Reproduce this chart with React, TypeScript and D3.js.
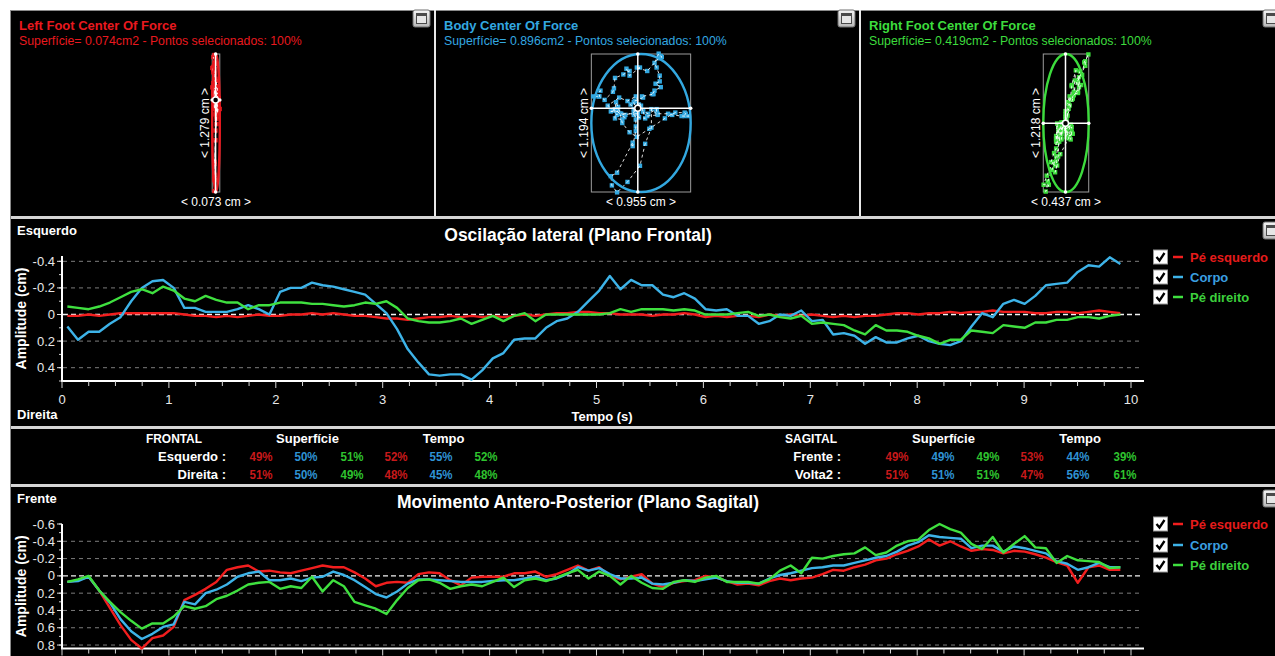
import React from "react";
import * as d3 from "d3";

const FONT = "'Liberation Sans', Arial, Helvetica, sans-serif";

// Platform sampling (seconds)
const SAMPLE_START = 0.05;
const SAMPLE_STEP = 0.0995;

// Medio-lateral displacement (cm), negative = Esquerdo
const lateralLeftFoot = [
  0.01, 0.01, 0.0, 0.01, 0.0, -0.01, -0.01, -0.01, -0.01, -0.01,
  -0.01, 0.0, 0.01, 0.01, 0.02, 0.01, 0.02, 0.01, 0.0, 0.01,
  0.01, 0.0, 0.0, -0.01, 0.0, -0.01, 0.0, 0.01, 0.01, 0.02,
  0.03, 0.03, 0.04, 0.03, 0.02, 0.02, 0.01, 0.02, 0.01, 0.02,
  0.01, 0.02, 0.01, 0.0, 0.01, 0.0, -0.01, -0.01, -0.02, -0.02,
  -0.01, -0.01, 0.0, 0.0, 0.0, 0.01, 0.0, 0.0, -0.01, 0.0,
  0.02, 0.01, 0.02, 0.01, 0.01, 0.02, 0.0, 0.01, 0.0, 0.01,
  0.0, 0.01, 0.02, 0.01, 0.02, 0.01, 0.01, 0.0, -0.01, -0.01,
  0.0, -0.01, -0.01, -0.02, -0.01, -0.02, -0.02, -0.03, -0.02, -0.02,
  -0.02, -0.01, -0.01, -0.02, -0.02, -0.01, -0.02, -0.03, -0.02, -0.01,
];
const lateralBody = [
  0.09, 0.19, 0.13, 0.13, 0.07, 0.02, -0.1, -0.2, -0.25, -0.26,
  -0.2, -0.05, -0.05, -0.02, -0.02, -0.02, -0.04, -0.07, -0.04, 0.0,
  -0.17, -0.2, -0.2, -0.24, -0.22, -0.21, -0.19, -0.17, -0.15, -0.08,
  -0.01, 0.11, 0.26, 0.36, 0.45, 0.46, 0.45, 0.45, 0.49, 0.42,
  0.33, 0.29, 0.19, 0.18, 0.18, 0.1, 0.05, 0.03, -0.02, -0.1,
  -0.18, -0.29, -0.19, -0.26, -0.22, -0.22, -0.15, -0.13, -0.16, -0.12,
  -0.04, -0.03, -0.04, 0.01, 0.01, 0.07, 0.05, 0.0, 0.01, -0.03,
  0.05, 0.04, 0.15, 0.14, 0.16, 0.22, 0.17, 0.21, 0.21, 0.18,
  0.16, 0.2, 0.22, 0.23, 0.2, 0.09, -0.01, 0.02, -0.08, -0.11,
  -0.08, -0.14, -0.22, -0.23, -0.24, -0.32, -0.37, -0.36, -0.43, -0.38,
];
const lateralRightFoot = [
  -0.06, -0.05, -0.04, -0.06, -0.09, -0.13, -0.17, -0.19, -0.16, -0.21,
  -0.18, -0.12, -0.1, -0.14, -0.11, -0.09, -0.09, -0.04, -0.07, -0.07,
  -0.09, -0.09, -0.09, -0.08, -0.08, -0.07, -0.06, -0.07, -0.09, -0.08,
  -0.1, -0.05, 0.03, 0.05, 0.06, 0.06, 0.05, 0.03, 0.07, 0.04,
  0.01, 0.05, 0.01, -0.01, 0.05, 0.0, 0.0, 0.0, 0.0, 0.0,
  0.0, -0.01, -0.04, -0.02, -0.04, -0.04, -0.04, -0.03, -0.04, -0.03,
  0.0, 0.0, 0.0, -0.01, -0.02, 0.01, 0.0, 0.02, 0.03, 0.01,
  0.07, 0.06, 0.07, 0.08, 0.12, 0.15, 0.08, 0.12, 0.12, 0.13,
  0.16, 0.18, 0.22, 0.19, 0.19, 0.12, 0.13, 0.14, 0.08, 0.09,
  0.1, 0.06, 0.06, 0.04, 0.04, 0.02, 0.02, 0.03, 0.01, 0.0,
];

// Antero-posterior displacement (cm), negative = Frente
const sagittalLeftFoot = [
  0.07, 0.05, 0.01, 0.17, 0.37, 0.57, 0.74, 0.84, 0.72, 0.69,
  0.59, 0.28, 0.22, 0.15, 0.07, -0.07, -0.1, -0.12, -0.05, -0.06,
  -0.04, -0.03, -0.06, -0.09, -0.12, -0.1, -0.1, -0.04, 0.03, 0.12,
  0.08, 0.07, 0.08, -0.02, -0.04, -0.03, 0.05, 0.11, 0.02, 0.01,
  0.01, 0.01, -0.03, -0.03, -0.05, 0.01, -0.02, -0.07, -0.12, -0.06,
  -0.1, 0.0, 0.04, 0.01, -0.02, 0.09, 0.13, 0.08, 0.06, 0.05,
  0.0, 0.02, 0.06, 0.1, 0.09, 0.11, 0.06, 0.03, 0.05, 0.03,
  0.02, -0.02, -0.07, -0.06, -0.1, -0.13, -0.18, -0.2, -0.25, -0.29,
  -0.34, -0.42, -0.35, -0.4, -0.34, -0.29, -0.31, -0.3, -0.26, -0.29,
  -0.28, -0.25, -0.21, -0.16, -0.12, 0.08, -0.1, -0.12, -0.07, -0.07,
];
const sagittalBody = [
  0.07, 0.06, 0.01, 0.17, 0.31, 0.5, 0.64, 0.73, 0.67, 0.59,
  0.56, 0.3, 0.33, 0.2, 0.16, 0.1, 0.01, -0.03, -0.05, 0.05,
  0.05, 0.03, 0.06, 0.02, 0.01, -0.05, -0.01, 0.05, 0.13, 0.21,
  0.25, 0.18, 0.09, 0.04, 0.04, 0.05, 0.06, 0.07, 0.07, 0.07,
  0.06, 0.05, 0.05, 0.03, 0.01, 0.05, 0.03, -0.02, -0.1, -0.06,
  -0.09, -0.02, 0.03, 0.03, 0.02, 0.09, 0.1, 0.08, 0.05, 0.06,
  0.04, 0.02, 0.06, 0.08, 0.08, 0.09, 0.03, -0.01, -0.03, -0.06,
  -0.09, -0.1, -0.12, -0.12, -0.15, -0.18, -0.21, -0.23, -0.28, -0.35,
  -0.39, -0.47, -0.45, -0.44, -0.43, -0.32, -0.35, -0.35, -0.28, -0.34,
  -0.32, -0.29, -0.26, -0.17, -0.14, -0.07, -0.1, -0.15, -0.1, -0.1,
];
const sagittalRightFoot = [
  0.07, 0.04, 0.0, 0.17, 0.3, 0.42, 0.52, 0.61, 0.55, 0.55,
  0.47, 0.35, 0.38, 0.35, 0.27, 0.23, 0.17, 0.1, 0.08, 0.07,
  0.15, 0.12, 0.14, 0.01, 0.18, 0.05, 0.12, 0.3, 0.34, 0.38,
  0.44, 0.28, 0.14, 0.05, 0.04, 0.08, 0.15, 0.12, 0.1, 0.12,
  0.07, 0.02, 0.13, 0.05, 0.03, 0.06, 0.02, -0.03, -0.07, 0.03,
  -0.05, 0.0, 0.1, 0.0, 0.08, 0.14, 0.15, 0.07, 0.05, 0.07,
  0.02, 0.0, 0.07, 0.07, 0.07, 0.09, 0.04, -0.06, -0.12, -0.03,
  -0.21, -0.2, -0.23, -0.25, -0.26, -0.33, -0.24, -0.27, -0.35, -0.4,
  -0.42, -0.53, -0.6, -0.54, -0.5, -0.37, -0.31, -0.45, -0.27, -0.37,
  -0.46, -0.33, -0.32, -0.15, -0.23, -0.18, -0.17, -0.16, -0.09, -0.1,
];

const times = lateralBody.map((_, i) => SAMPLE_START + i * SAMPLE_STEP);

const seriesNames = ["Pé esquerdo", "Corpo", "Pé direito"];
const seriesColors = ["#f21e1e", "#3db3e8", "#3fe03f"];
const legendColors = ["#e51b1b", "#3a9fe0", "#3ccf3c"];

const timeTicks = [0, 1, 2, 3, 4, 5, 6, 7, 8, 9, 10];
const lateralTicks = [-0.4, -0.2, 0, 0.2, 0.4];
const sagittalTicks = [-0.6, -0.4, -0.2, 0, 0.2, 0.4, 0.6, 0.8];

// Center-of-force panels
const panelTitles = ["Left Foot Center Of Force", "Body Center Of Force", "Right Foot Center Of Force"];
const panelColors = ["#e8191f", "#33a8e0", "#3ddc3d"];
const panelAreas = [0.074, 0.896, 0.419];
const panelWidthsCm = [0.073, 0.955, 0.437];
const panelHeightsCm = [1.279, 1.194, 1.218];
const panelLateral = [lateralLeftFoot, lateralBody, lateralRightFoot];
const panelSagittal = [sagittalLeftFoot, sagittalBody, sagittalRightFoot];

// Summary table
const frontalRows = ["Esquerdo :", "Direita :"];
const frontalValues = [
  [49, 50, 51, 52, 55, 52],
  [51, 50, 49, 48, 45, 48],
];
const sagittalRows = ["Frente :", "Volta2 :"];
const sagittalValues = [
  [49, 49, 49, 53, 44, 39],
  [51, 51, 51, 47, 56, 61],
];
const tableColors = ["#c8191b", "#2f93d4", "#2fc42f", "#c8191b", "#2f93d4", "#2fc42f"];

const xTime = d3.scaleLinear().domain([0, 10]).range([62, 1131]);
const yLateral = d3.scaleLinear().domain([-0.44, 0.5]).range([256, 381]);
const ySagittal = d3.scaleLinear().domain([-0.6, 0.84]).range([524, 648.5]);

const fmtTick = (v: number) => (Math.abs(v) < 1e-9 ? "0" : v.toFixed(1));

function WinButton({ x, y }: { x: number; y: number }) {
  return (
    <g>
      <rect x={x} y={y} width={17} height={17} rx={2} fill="url(#btnGrad)" stroke="#6f6f6f" />
      <rect x={x + 3.5} y={y + 3.5} width={10} height={10} fill="#e6e6e6" stroke="#4a4a4a" />
      <line x1={x + 3.5} x2={x + 13.5} y1={y + 5} y2={y + 5} stroke="#4a4a4a" strokeWidth={2} />
    </g>
  );
}

function Legend({ rows }: { rows: number[] }) {
  return (
    <g>
      {rows.map((ry, i) => (
        <g key={i}>
          <rect x={1153.5} y={ry - 7} width={14} height={14} fill="#fff" stroke="#9a9a9a" />
          <path
            d={`M${1156.5},${ry} L${1159.5},${ry + 3.5} L${1164.5},${ry - 4}`}
            fill="none"
            stroke="#000"
            strokeWidth={2.3}
          />
          <line x1={1173} x2={1183} y1={ry} y2={ry} stroke={seriesColors[i]} strokeWidth={2.5} />
          <text x={1190} y={ry + 4.5} fill={legendColors[i]} fontSize={13} fontWeight="bold">
            {seriesNames[i]}
          </text>
        </g>
      ))}
    </g>
  );
}

type ChartProps = {
  y: d3.ScaleLinear<number, number>;
  ticks: number[];
  gridTicks: number[];
  series: number[][];
  title: string;
  titleY: number;
  topLabel: string;
  topLabelY: number;
  bottomLabel?: string;
  bottomLabelY?: number;
  legendRows: number[];
  showTimeLabels: boolean;
};

function TimeChart(p: ChartProps) {
  const [yTop, yBottom] = p.y.range();
  const [d0, d1] = p.y.domain();
  const minor = d3.range(Math.ceil(d0 * 10 - 1e-6), Math.floor(d1 * 10 + 1e-6) + 1).map((k) => k / 10);
  const xMinor = d3.range(0, 41).map((k) => k * 0.25);
  const line = d3
    .line<number>()
    .x((_, i) => xTime(times[i]))
    .y((v) => p.y(v));
  const yMid = (yTop + yBottom) / 2;
  return (
    <g>
      {p.gridTicks.map((t) => (
        <line
          key={`g${t}`}
          x1={63}
          x2={1142}
          y1={p.y(t)}
          y2={p.y(t)}
          stroke={t === 0 ? "#f2f2f2" : "#7c7c7c"}
          strokeWidth={t === 0 ? 1.4 : 1}
          strokeDasharray={t === 0 ? "5,3" : "4,4"}
        />
      ))}
      {minor.map((t) => (
        <line key={`m${t}`} x1={59} x2={62} y1={p.y(t)} y2={p.y(t)} stroke="#d0d0d0" strokeWidth={1} />
      ))}
      {p.ticks.map((t) => (
        <g key={`t${t}`}>
          <line x1={57} x2={62} y1={p.y(t)} y2={p.y(t)} stroke="#e0e0e0" strokeWidth={1} />
          <text x={55} y={p.y(t) + 4.5} fill="#e8e8e8" fontSize={13} textAnchor="end">
            {fmtTick(t)}
          </text>
        </g>
      ))}
      <line x1={62} x2={62} y1={yTop} y2={yBottom} stroke="#fff" strokeWidth={2} />
      <line x1={61} x2={1144} y1={yBottom} y2={yBottom} stroke="#fff" strokeWidth={2} />
      {xMinor.map((t) => {
        const major = Math.abs(t - Math.round(t)) < 1e-6;
        return (
          <line
            key={`x${t}`}
            x1={xTime(t)}
            x2={xTime(t)}
            y1={yBottom}
            y2={yBottom + (major ? 7 : 5)}
            stroke="#d8d8d8"
            strokeWidth={1}
          />
        );
      })}
      {p.showTimeLabels &&
        timeTicks.map((t) => (
          <text key={`l${t}`} x={xTime(t)} y={yBottom + 23} fill="#e8e8e8" fontSize={13} textAnchor="middle">
            {t}
          </text>
        ))}
      {p.showTimeLabels && (
        <text x={602} y={421} fill="#fff" fontSize={13} fontWeight="bold" textAnchor="middle">
          Tempo (s)
        </text>
      )}
      {p.series.map((s, i) => (
        <path key={`s${i}`} d={line(s) || ""} fill="none" stroke={seriesColors[i]} strokeWidth={2.4} strokeLinejoin="round" />
      ))}
      <text
        transform={`translate(26,${yMid}) rotate(-90)`}
        fill="#fff"
        fontSize={14}
        fontWeight="bold"
        textAnchor="middle"
      >
        Amplitude (cm)
      </text>
      <text x={17} y={p.topLabelY} fill="#fff" fontSize={13} fontWeight="bold">
        {p.topLabel}
      </text>
      {p.bottomLabel && (
        <text x={17} y={p.bottomLabelY} fill="#fff" fontSize={13} fontWeight="bold">
          {p.bottomLabel}
        </text>
      )}
      <text x={578} y={p.titleY} fill="#fff" fontSize={17.5} fontWeight="bold" textAnchor="middle">
        {p.title}
      </text>
      <Legend rows={p.legendRows} />
    </g>
  );
}

function ForcePanel({ index }: { index: number }) {
  const x0 = 10 + index * 425;
  const cx = x0 + 206;
  const top = 54;
  const bottom = 192;
  const kx = 104; // px per cm, horizontal
  const W = panelWidthsCm[index];
  const H = panelHeightsCm[index];
  const lat = panelLateral[index];
  const sag = panelSagittal[index];
  const color = panelColors[index];
  const [lx0, lx1] = d3.extent(lat) as [number, number];
  const [ly0, ly1] = d3.extent(sag) as [number, number];
  const midX = (lx0 + lx1) / 2;
  const midY = (ly0 + ly1) / 2;
  const sx = d3.scaleLinear().domain([midX - W / 2, midX + W / 2]).range([cx - (W * kx) / 2, cx + (W * kx) / 2]);
  const sy = d3.scaleLinear().domain([midY - H / 2, midY + H / 2]).range([top, bottom]);
  const meanX = sx(d3.mean(lat) as number);
  const meanY = sy(d3.mean(sag) as number);
  const left = sx(midX - W / 2);
  const right = sx(midX + W / 2);
  const pts = lat.map((v, i) => [sx(v), sy(sag[i])] as [number, number]);
  const path = d3.line()(pts) || "";
  return (
    <g>
      <text x={x0 + 9} y={30} fill={color} fontSize={13} fontWeight="bold">
        {panelTitles[index]}
      </text>
      <text x={x0 + 9} y={45} fill={color} fontSize={12.3}>
        {`Superfície= ${panelAreas[index].toFixed(3)}cm2 - Pontos selecionados: 100%`}
      </text>
      <rect x={left} y={top} width={right - left} height={bottom - top} fill="none" stroke="#9c9c9c" strokeWidth={1} />
      {pts.map(([px, py], i) => (
        <rect key={i} x={px - 2.2} y={py - 2.2} width={4.4} height={4.4} fill={color} />
      ))}
      <path d={path} fill="none" stroke="#fff" strokeWidth={1} strokeDasharray="3,3" opacity={0.85} />
      <ellipse
        cx={(left + right) / 2}
        cy={(top + bottom) / 2}
        rx={(right - left) / 2}
        ry={(bottom - top) / 2}
        fill="none"
        stroke={color}
        strokeWidth={2.4}
      />
      <line x1={meanX} x2={meanX} y1={top} y2={bottom} stroke="#fff" strokeWidth={1.5} />
      <line x1={left} x2={right} y1={meanY} y2={meanY} stroke="#fff" strokeWidth={1.5} />
      {[
        [meanX, top],
        [meanX, bottom],
        [left, meanY],
        [right, meanY],
      ].map(([ex, ey], i) => (
        <circle key={i} cx={ex} cy={ey} r={1.8} fill="#fff" />
      ))}
      <circle cx={meanX} cy={meanY} r={3} fill="#000" stroke="#fff" strokeWidth={1.5} />
      <text x={cx} y={206} fill="#fff" fontSize={12} textAnchor="middle">
        {`< ${W.toFixed(3)} cm >`}
      </text>
      <text
        transform={`translate(${left - 3},${(top + bottom) / 2}) rotate(-90)`}
        fill="#fff"
        fontSize={12}
        textAnchor="middle"
      >
        {`< ${H.toFixed(3)} cm >`}
      </text>
      <WinButton x={x0 + 403} y={10} />
    </g>
  );
}

function SummaryTable() {
  const blocks = [
    { head: "FRONTAL", headX: 146, headLen: 56, labelEnd: 226, rows: frontalRows, values: frontalValues, supX: 307.5, tempoX: 443.5, cols: [261, 306, 352, 396, 441, 486] },
    { head: "SAGITAL", headX: 785, headLen: 52, labelEnd: 841, rows: sagittalRows, values: sagittalValues, supX: 943.5, tempoX: 1080, cols: [897, 943, 988, 1032, 1078, 1125] },
  ];
  const rowY = [460.5, 478.5];
  return (
    <g fontWeight="bold" fontSize={13}>
      {blocks.map((b) => (
        <g key={b.head}>
          <text x={b.headX} y={442.5} fill="#fff" textLength={b.headLen} lengthAdjust="spacingAndGlyphs">
            {b.head}
          </text>
          <text x={b.supX} y={442.5} fill="#fff" textAnchor="middle">
            Superfície
          </text>
          <text x={b.tempoX} y={442.5} fill="#fff" textAnchor="middle">
            Tempo
          </text>
          {b.rows.map((r, ri) => (
            <g key={r}>
              <text x={b.labelEnd} y={rowY[ri]} fill="#fff" textAnchor="end">
                {r}
              </text>
              {b.values[ri].map((v, ci) => (
                <text
                  key={ci}
                  x={b.cols[ci] - 11.5}
                  y={rowY[ri]}
                  fill={tableColors[ci]}
                  textLength={23}
                  lengthAdjust="spacingAndGlyphs"
                >
                  {`${v}%`}
                </text>
              ))}
            </g>
          ))}
        </g>
      ))}
    </g>
  );
}

export default function App() {
  return (
    <svg
      width={1275}
      height={656}
      style={{ position: "absolute", left: 0, top: 0, display: "block" }}
      fontFamily={FONT}
    >
      <defs>
        <linearGradient id="btnGrad" x1="0" y1="0" x2="0" y2="1">
          <stop offset="0" stopColor="#f4f4f4" />
          <stop offset="1" stopColor="#b8b8b8" />
        </linearGradient>
      </defs>
      <rect width={1275} height={656} fill="#fff" />
      {/* frames */}
      <rect x={10} y={10} width={1265} height={206} fill="#000" />
      <rect x={10} y={219} width={1265} height={207} fill="#000" />
      <rect x={10} y={429} width={1265} height={55} fill="#000" />
      <rect x={10} y={487} width={1265} height={169} fill="#000" />
      <rect x={10} y={216} width={1265} height={3} fill="#d6d6d6" />
      <rect x={10} y={426} width={1265} height={3} fill="#d6d6d6" />
      <rect x={10} y={484} width={1265} height={3} fill="#d6d6d6" />
      <line x1={10.5} x2={10.5} y1={10} y2={656} stroke="#8a8a8a" />
      <line x1={10} x2={1275} y1={10.5} y2={10.5} stroke="#8a8a8a" />
      <line x1={435} x2={435} y1={10} y2={216} stroke="#e8e8e8" strokeWidth={2} />
      <line x1={860} x2={860} y1={10} y2={216} stroke="#e8e8e8" strokeWidth={2} />

      {[0, 1, 2].map((i) => (
        <ForcePanel key={i} index={i} />
      ))}

      <TimeChart
        y={yLateral}
        ticks={lateralTicks}
        gridTicks={lateralTicks}
        series={[lateralLeftFoot, lateralBody, lateralRightFoot]}
        title="Oscilação lateral (Plano Frontal)"
        titleY={241}
        topLabel="Esquerdo"
        topLabelY={235}
        bottomLabel="Direita"
        bottomLabelY={419}
        legendRows={[257, 277, 297]}
        showTimeLabels={true}
      />
      <WinButton x={1263} y={222} />

      <SummaryTable />

      <TimeChart
        y={ySagittal}
        ticks={sagittalTicks}
        gridTicks={sagittalTicks.filter((t) => t > -0.6)}
        series={[sagittalLeftFoot, sagittalBody, sagittalRightFoot]}
        title="Movimento Antero-Posterior (Plano Sagital)"
        titleY={508}
        topLabel="Frente"
        topLabelY={503}
        legendRows={[524, 545, 565]}
        showTimeLabels={false}
      />
      <WinButton x={1263} y={490} />
    </svg>
  );
}
